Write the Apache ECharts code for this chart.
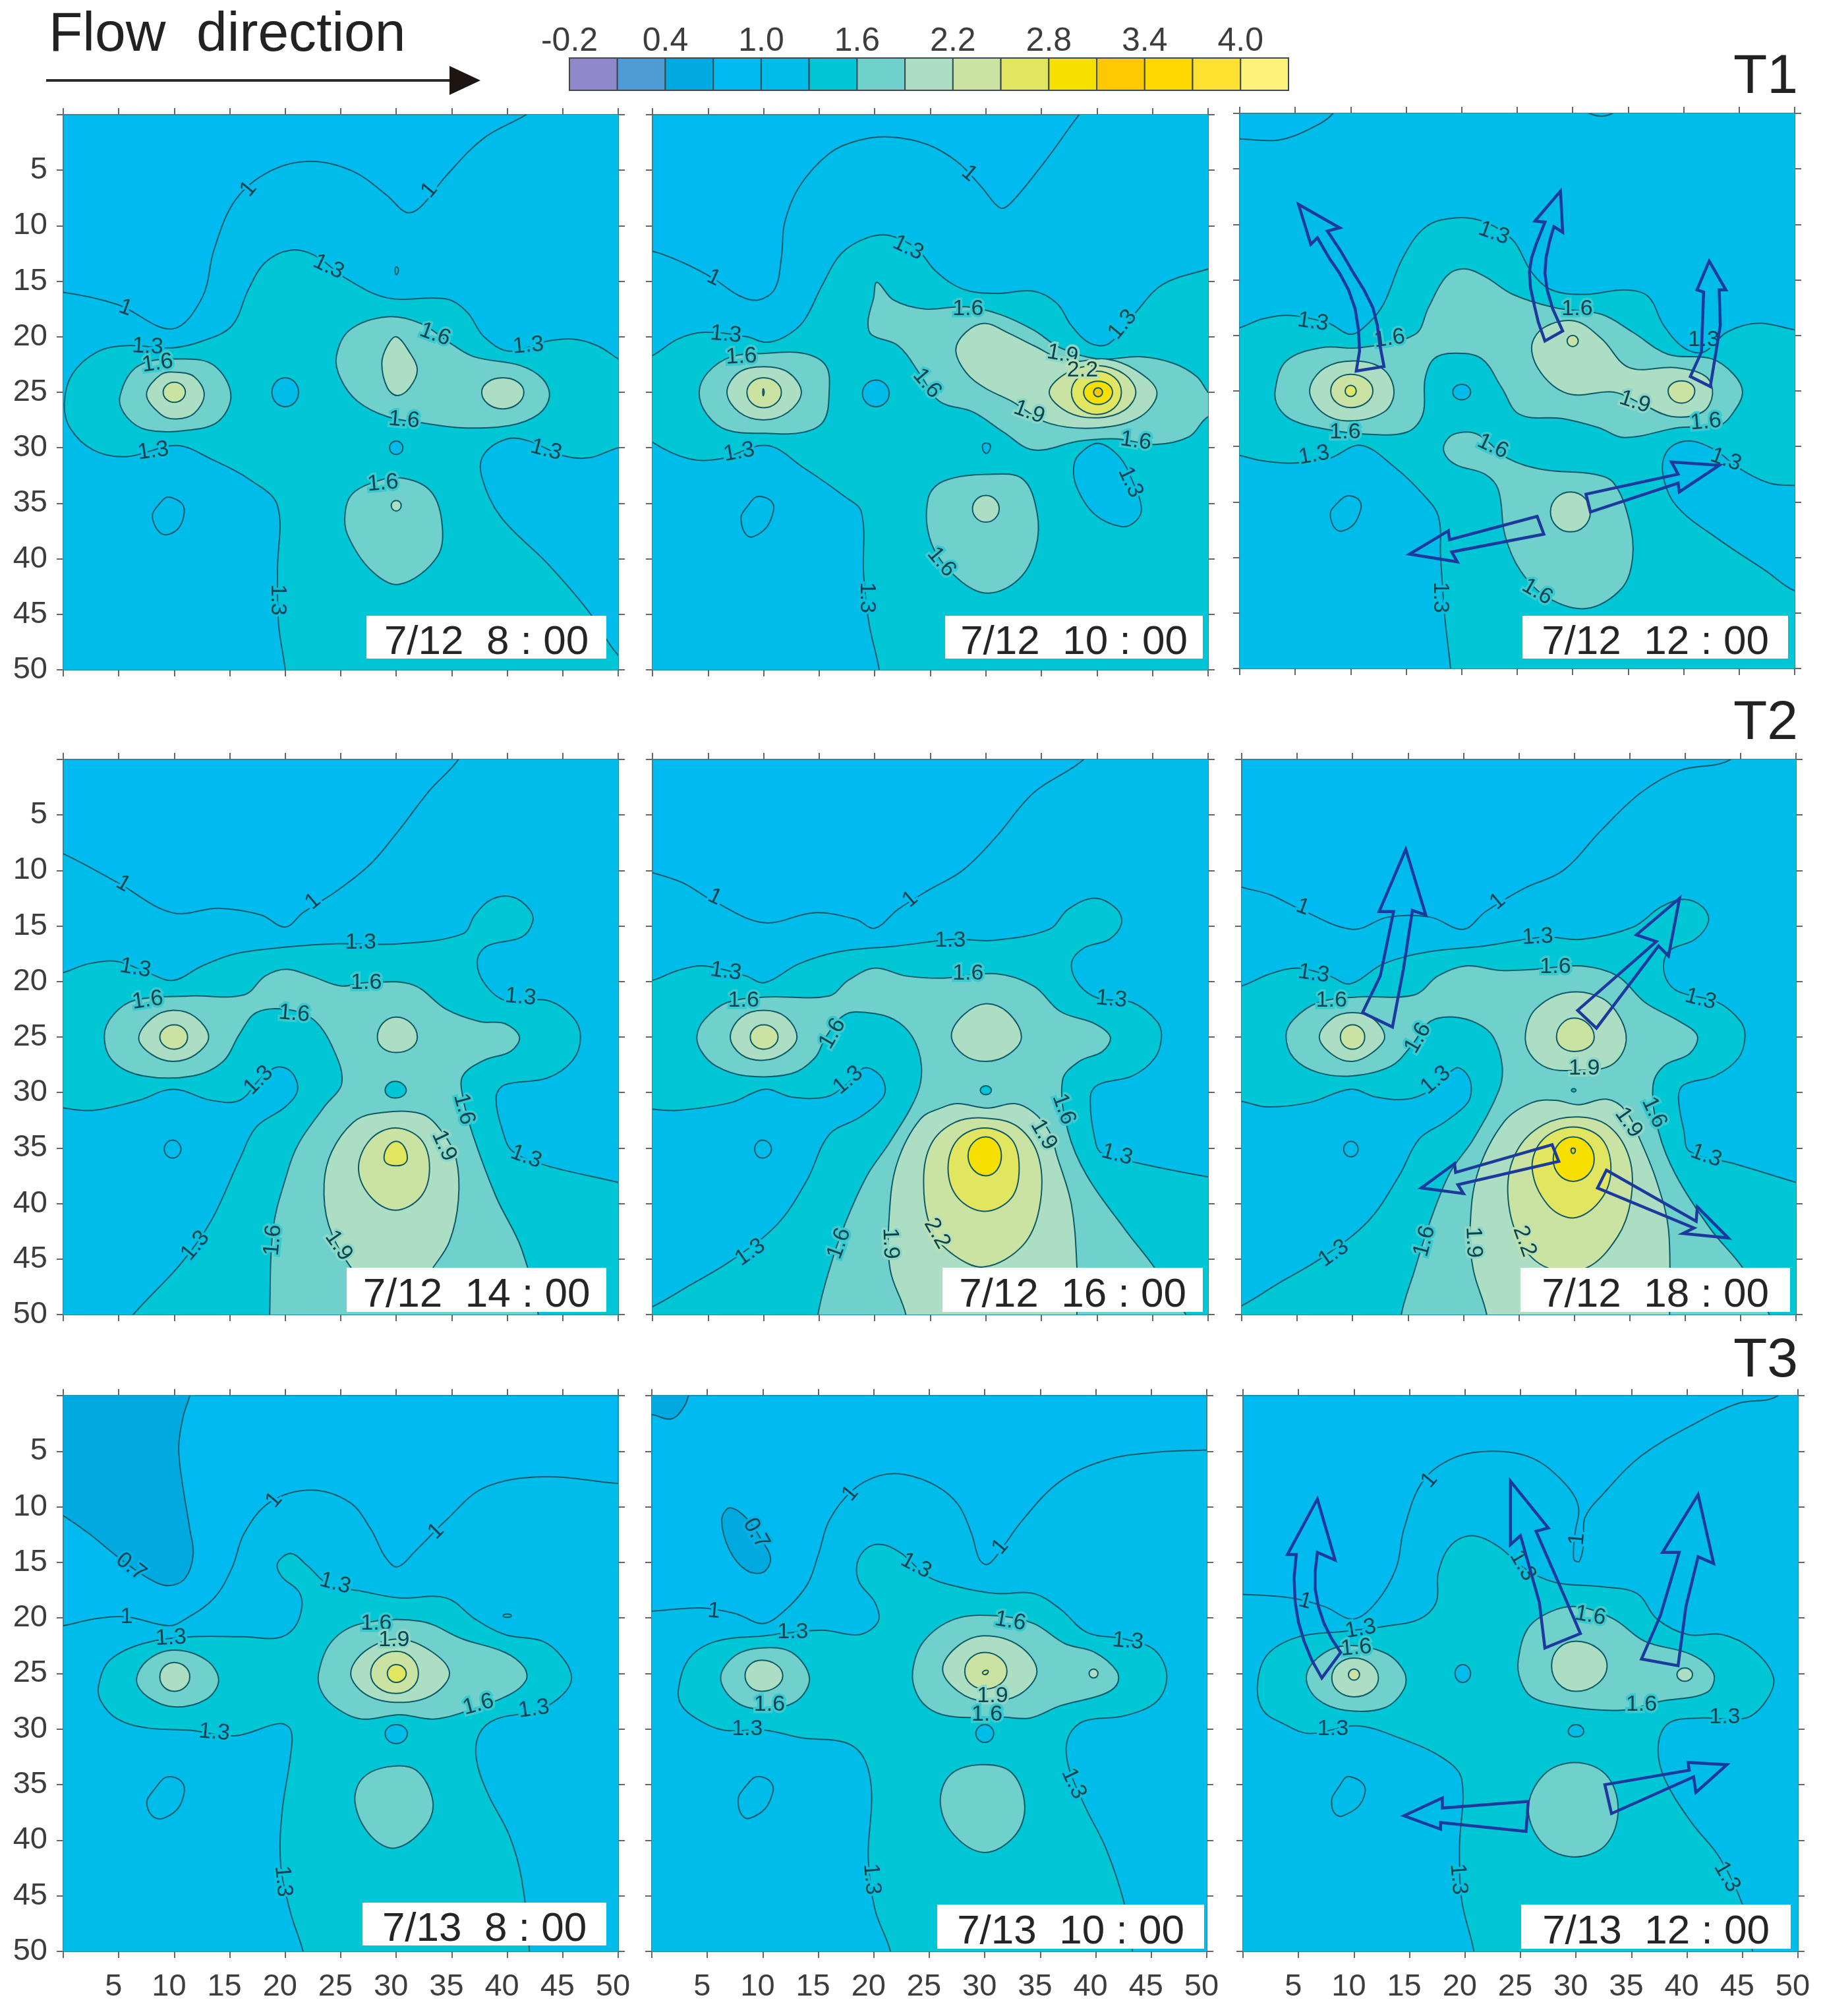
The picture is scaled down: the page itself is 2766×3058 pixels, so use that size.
<!DOCTYPE html>
<html>
<head>
<meta charset="utf-8">
<style>
  html, body { margin: 0; padding: 0; background: #fff; }
  #chart { width: 2766px; height: 3058px; }
</style>
<script src="https://cdn.jsdelivr.net/npm/echarts@6/dist/echarts.min.js"></script>
</head>
<body>
<div id="chart"></div>
<script>
// legend
const legendLevels = [-0.2, 0.1, 0.4, 0.7, 1.0, 1.3, 1.6, 1.9, 2.2, 2.5, 2.8, 3.1, 3.4, 3.7, 4.0];
const legendColors = ['#8f88c9', '#4f9bd6', '#00a9e0', '#00baf0', '#00bcea', '#00c6d6', '#70d0cc', '#abdec2',
  '#cae3a3', '#e2e560', '#f7e000', '#ffc800', '#ffd800', '#ffe030', '#fff27a'];
const legendTicks = [-0.2, 0.4, 1.0, 1.6, 2.2, 2.8, 3.4, 4.0];

const axisTicks = [5, 10, 15, 20, 25, 30, 35, 40, 45, 50];
const timeLabels = ['7/12  8 : 00', '7/12  10 : 00', '7/12  12 : 00', '7/12  14 : 00', '7/12  16 : 00', '7/12  18 : 00',
  '7/13  8 : 00', '7/13  10 : 00', '7/13  12 : 00'];
const periodLabels = ['T1', 'T2', 'T3'];

// contours: [level, outline], x across, y down. Off-panel points close the shape.
const contours0712a = [
  [1.0, [[0,16],[4.9,17.1],[9.8,19.3],[12.5,16.5],[13.6,12.1],[15.5,7.7],[18.6,5.1],[22.3,4.2],[26.1,5.1],[29.2,7.3],[30.9,8.8],[32.2,8.3],[34.5,5.5],[37.9,2.1],[41.7,0],[46,-3],[53,-3],[53,53],[-3,53],[-3,16]]],
  [1.3, [[0.1,26],[0.8,23.4],[3,21.4],[5.7,20.8],[9.8,21],[12.5,20.4],[15.2,19],[16.7,15.7],[18.2,13.3],[20.5,12.2],[22.7,12.7],[25.4,14.7],[29.2,16.5],[34.5,16.6],[36.4,17.8],[37.9,20],[40.2,21.3],[43.6,20.4],[45.9,20.2],[48.1,20.8],[50,22],[53,24],[53,29.5],[50,30],[47.4,30.9],[45,30.7],[42,29.4],[40,29.2],[37.9,30.6],[37.7,32.6],[39.4,36.2],[43.6,40.4],[47.3,44.7],[50,48.7],[53,51],[53,53],[20.2,53],[20,50],[19.4,45.9],[19.3,41],[19.3,35.2],[17,33],[13.3,31],[10.2,29.8],[5.7,30.8],[2.7,30.2],[0.6,28.2]]],
  [1.0, [[18.8,25],[20,23.7],[21.2,25],[20,26.3]]],
  [1.0, [[9.8,34.5],[10.9,35.8],[9.5,37.8],[8.1,36.6],[8.7,35]]],
  [1.0, [[29.4,30],[30,29.4],[30.6,30],[30,30.6]]],
  [1.6, [[5.1,25.4],[6.8,22.6],[11,22],[13.6,22.6],[15.1,25.2],[14,27.6],[11.4,28.4],[7.6,28.4],[5.7,27.2]]],
  [1.6, [[24.6,21.8],[25.8,19.4],[29.2,18.2],[32.2,18.8],[34.9,20.6],[37,21.8],[41.2,22.6],[43.2,23.8],[43.8,25.4],[42.8,27],[40.2,28],[36,28.2],[32.6,27.8],[29.2,27.2],[26.5,25.8],[25,23.8]]],
  [1.6, [[27.7,33.2],[30.3,32.7],[33,33.8],[34.1,36.6],[33.7,39.8],[30.3,42.3],[27.7,41],[25.6,37.8],[25.4,35.8],[26,34.2]]],
  [1.9, [[7.5,25.2],[8.8,23.4],[10.2,23.2],[11.8,23.6],[12.7,25.2],[11.8,26.9],[10.2,27.4],[8.8,27]]],
  [1.9, [[30,20],[31.2,21.4],[31.9,23],[31.2,24.6],[30.1,25.3],[29.2,24.6],[28.7,22.4],[29.2,20.8]]],
  [1.9, [[37.7,25],[39.6,23.7],[41.5,25],[39.6,26.5]]],
  [1.9, [[29.55,35.2],[30,34.75],[30.45,35.2],[30,35.7]]],
  [2.2, [[9,25],[10,24.1],[11,25],[10,25.9]]],
  [1.3, [[30,13.7],[30.2,14],[30,14.4],[29.9,14]]]
];
const contours0712b = [
  [1.0, [[0,12.3],[2.7,13.3],[5.4,14.7],[7.8,16.3],[9.5,16.7],[11,15.7],[11.6,12.9],[11.9,9.7],[13.2,6.5],[15.9,3.5],[18.6,2.3],[21.4,2],[24.8,2.7],[27.5,4.3],[29.6,6.5],[31.3,8.4],[32.3,7.9],[35.4,4.1],[38.4,0],[41,-3],[53,-3],[53,53],[-3,53],[-3,12]]],
  [1.3, [[0,21.7],[2.3,20.2],[4.7,19.6],[8.5,20],[10.2,20.5],[11.9,20],[13.6,18.6],[15.3,15.3],[17,12.5],[19.3,11.1],[21.4,10.9],[23.8,12.1],[25.5,14.1],[27.9,15.7],[30.9,16.1],[34.3,15.9],[36.4,17],[37.7,19],[39.4,20.6],[41.1,20.6],[43.5,17.8],[45.9,15.3],[50,13.9],[53,13],[53,53],[20.6,53],[20.4,50],[19.5,45.9],[19,41.4],[18.8,35.8],[17.3,34.4],[13.6,31.8],[10.3,29.8],[6.1,31],[3.3,31],[0,29.5],[-3,27],[-3,23]]],
  [1.0, [[38.4,30.6],[40.1,29.6],[42,30.8],[43.2,33],[44,35.4],[43.5,36.6],[42.2,37.1],[39.8,36],[38.2,33.6],[37.9,31.8]]],
  [1.0, [[18.9,25.1],[20.1,23.9],[21.3,25.1],[20.1,26.3]]],
  [1.0, [[9.8,34.4],[10.9,35.6],[9.1,38],[8,36.8],[8.6,35.2]]],
  [1.0, [[29.7,29.8],[30.2,29.6],[30.4,30],[30,30.5]]],
  [1.6, [[4.2,25],[5,23.2],[7.1,21.8],[10.2,21.5],[13.6,21.5],[15.6,22.6],[15.9,25],[15.4,27.6],[13.6,28.6],[10.2,28.7],[6.7,28.4],[4.9,27]]],
  [1.6, [[20.2,15.1],[21.7,16.7],[24.5,17.5],[28.2,17.3],[31.3,18],[34.3,19.4],[36.7,21],[40.1,22],[43.9,21.8],[46.9,22.4],[49,23.6],[50,25],[52,27],[50,27.2],[48.3,29],[45.2,29.7],[41.8,29.2],[38.4,29.4],[34.3,30.2],[31.6,28.6],[28.9,26.8],[25.8,25.8],[24.1,23.4],[22.1,20.8],[19.7,19.8],[19.4,18.6],[19.9,16.5]]],
  [1.6, [[24.8,34.6],[26.2,33],[30.2,32.4],[33.3,32.8],[34.6,35.8],[34.5,39],[33,41.8],[30.2,43.1],[27.5,41.8],[25.1,38.6]]],
  [1.9, [[6.7,25],[7.8,23.2],[10,22.7],[12.2,23.2],[13.4,25],[12.2,26.8],[10,27.5],[7.8,26.8]]],
  [1.9, [[27.3,21.2],[28.2,19.6],[29.9,18.8],[31.9,19.6],[34.3,20.8],[37.4,22.2],[40.8,22],[43.5,23],[45.4,25],[43.9,27.2],[40.1,28.2],[35.7,27.8],[32.3,25.8],[29.9,24.6],[28.2,23.2]]],
  [1.9, [[28.8,35.5],[30,34.3],[31.2,35.5],[30,36.7]]],
  [2.2, [[8.5,25],[10,23.7],[11.6,25],[10,26.4]]],
  [2.2, [[35.7,25],[37.4,23.2],[40.1,22.6],[42.5,23.4],[43.5,25],[42.5,26.6],[40.1,27.3],[37.4,26.8]]],
  [2.5, [[37.7,25],[40,23.1],[42.2,25],[40,27]]],
  [2.8, [[38.8,25],[40.1,24],[41.4,25],[40.1,26.1]]],
  [3.1, [[39.7,25],[40.1,24.6],[40.5,25],[40.1,25.4]]],
  [2.5, [[9.95,24.7],[10.05,25],[9.95,25.3]]]
];
const contours0712c = [
  [1.0, [[-3,2.3],[0,2.3],[3.5,2.4],[6.3,1.4],[8.4,0],[10,-3],[53,-3],[53,53],[-3,53]]],
  [0.7, [[31,-0.5],[32.6,0.25],[34,-0.5]]],
  [1.3, [[0,19.3],[2.1,18.5],[4.6,18.2],[8,18.9],[10,19.9],[11.6,18.9],[13,17.1],[14.7,13],[16.8,10.2],[19.6,9.4],[22.1,9.8],[24.6,11.4],[26.3,14.3],[28.1,15.9],[31.2,16.3],[34.7,15.9],[36.8,16.5],[38.2,19.1],[40,21.1],[41.8,21.5],[43.9,19.7],[46.7,18.9],[50,19.5],[53,20],[53,33.5],[50,33.5],[47.7,33.3],[44.9,31.9],[42.8,30.3],[40.4,29.5],[38.6,30.3],[38.1,32.3],[39.3,35.3],[43.2,38.4],[47.4,41.2],[50,43],[53,43.5],[53,53],[19.2,53],[19,50],[18.5,45.6],[18.1,40],[17.9,36.3],[16.5,34.3],[14,31.9],[10.9,29.9],[8,31.1],[4.6,31.5],[2.1,31.3],[0,30.8],[-3,30],[-3,20]]],
  [1.0, [[19.2,25.1],[20,24.4],[20.8,25.1],[20,25.8]]],
  [1.0, [[10.2,34.5],[10.9,35.7],[9.3,37.6],[8.2,36.5],[8.8,35.1]]],
  [1.6, [[3.2,24.9],[4.2,22.3],[7.4,21.1],[10.9,21.1],[15.8,19.9],[17,17.5],[18.6,14.7],[20.2,14],[22.1,14.7],[24.6,16.3],[28.4,17.5],[32.6,18.1],[35.4,19.7],[38.6,21.7],[42.5,22.1],[44.5,23.5],[45.3,25.1],[44.5,26.9],[43.2,28.1],[39.6,28.3],[34.7,29.2],[32.3,28.3],[29.1,27.5],[25.2,27.1],[23.6,24.7],[21.8,22.1],[19.3,21.6],[17.5,22.1],[16.7,23.9],[16.5,27.1],[15.1,28.7],[11.6,28.9],[8.1,28.5],[4.9,27.7],[3.5,26.5]]],
  [1.6, [[18.4,29.9],[19.3,28.9],[21.4,28.9],[24.2,31.1],[27.4,32.1],[31.9,32.5],[33.7,33.3],[35.1,36.7],[35.4,40],[34.4,42.8],[31.2,44.6],[27.7,43.6],[25.3,41.2],[23.9,38],[23.3,33.9],[22.1,32.5],[19.6,31.7],[18.6,30.9]]],
  [1.9, [[6.3,24.9],[7.7,22.9],[10.5,22.3],[13,23.1],[13.9,25.1],[13,26.9],[9.8,27.7],[7.4,26.9]]],
  [1.9, [[26.3,21.1],[27.4,19.3],[30.2,18.7],[32.6,20.3],[35.1,22.9],[39.3,22.9],[42,23.7],[42.6,25.3],[41.7,26.9],[38.9,27.3],[36.1,26.1],[33.7,25.1],[29.8,25.3],[27.4,23.7]]],
  [1.9, [[28,35.9],[29.8,34.1],[31.6,35.9],[29.8,37.7]]],
  [2.2, [[8.2,25],[10,23.5],[12,25],[10,26.5]]],
  [2.2, [[29.5,20.5],[30,20],[30.5,20.5],[30,21]]],
  [2.2, [[38.6,25],[39.8,24.1],[41,25],[39.8,26.1]]],
  [2.5, [[9.5,25],[10,24.5],[10.5,25],[10,25.5]]]
];
const contours0712d = [
  [1.0, [[0,8.5],[4.9,11.1],[9.8,13.8],[14,13.4],[17.8,14],[20,15.1],[21.6,13.8],[24.7,11.8],[27.7,9.4],[30.3,6.3],[33,2.8],[35.6,0],[37,-3],[53,-3],[53,53],[-3,53],[-3,7.5]]],
  [1.3, [[0,19.2],[2.3,18.4],[4.9,18.2],[7.6,19.2],[9.9,19.9],[12.5,18.6],[15.5,17.5],[20.1,16.9],[24.7,16.6],[30.3,16.6],[36,15.7],[37.1,14],[38.6,12.6],[40.5,12.4],[42,13.5],[42.3,14.6],[41.3,16],[38.2,16.8],[37.3,18.1],[37.9,20.1],[39.8,21.7],[43.6,21.7],[45.9,23.2],[46.6,25],[45.9,27.1],[43.6,28.7],[39.8,29.3],[39,30.4],[39.6,33.5],[40.5,35.3],[43.6,36.6],[50,38.1],[53,39],[53,53],[4,53],[6.3,50],[10.6,45.4],[13.3,41.6],[15.9,36],[17.4,33.1],[20,31.3],[21.1,29.8],[20.6,28.2],[19.3,27.7],[17.8,28.7],[15.9,30.7],[13.3,30.7],[9.9,29.7],[6.8,30.7],[2.7,31.6],[0,31.4],[-3,31],[-3,20]]],
  [1.0, [[9.1,35.1],[9.85,34.3],[10.6,35.1],[9.85,35.9]]],
  [1.6, [[3.7,24.9],[4.5,23],[6.4,21.7],[11.4,21.3],[16.3,21.2],[18.2,19.5],[20.1,18.9],[22.3,19.5],[25,20.4],[27.3,20.1],[31.5,20.3],[34.5,22.5],[37.5,23.6],[39.8,23.8],[41.1,25],[40.3,26.3],[37.9,27.1],[36,28.5],[36,30.4],[36.9,33.8],[39,39.4],[41.3,44.1],[42.8,50],[43,53],[18.6,53],[18.6,50],[18.9,42.3],[20.1,37.5],[21.2,34.6],[23.5,31.3],[25.1,29.1],[24.2,25.8],[22.5,23.4],[20.1,22.5],[17.4,22.8],[15.9,24.7],[14.4,27.2],[11.7,28.5],[7.2,28.5],[4.5,27.2]]],
  [1.3, [[29,29.8],[29.9,29],[30.9,29.8],[29.9,30.5]]],
  [1.9, [[6.8,25.1],[8,23.3],[9.9,22.6],[11.9,23.2],[13.1,25],[11.9,26.6],[9.9,27.2],[8,26.6]]],
  [1.9, [[28.3,25],[30,23.2],[31.9,25],[30,26.4]]],
  [1.9, [[23.5,38.2],[24.2,35.3],[26.1,32.7],[28,31.9],[32.2,31.9],[34.1,33.5],[35.4,36],[35.6,39.7],[34.8,43.4],[33.3,45.8],[31,49],[29,49],[25.8,45.6],[23.9,41.9]]],
  [2.2, [[26.6,36.8],[27.7,34.2],[29.9,33.2],[32.2,34.2],[33,36.8],[32.2,39.4],[29.9,40.6],[27.7,39.4]]],
  [2.2, [[8.7,25],[10,23.9],[11.2,25],[10,26.1]]],
  [2.5, [[28.9,35.9],[30,34.4],[31,35.9],[30,36.6]]]
];
const contours0712e = [
  [1.0, [[0,10.2],[2.7,11.1],[5.4,12.7],[10,14.7],[14.6,13.8],[18.3,14.4],[20,15.2],[22.1,13.5],[24.8,11.8],[27.9,10],[30.9,7],[34.3,3],[38.8,0],[41,-3],[53,-3],[53,53],[-3,53],[-3,9.5]]],
  [1.3, [[0,19.9],[2.3,19],[4.7,18.6],[8.4,19.5],[10.1,20.1],[13.2,18.4],[16.9,17.3],[22,16.8],[27.2,16.2],[30.6,16.3],[35.7,15.3],[37.4,13.5],[39.8,12.5],[41.8,13.5],[42.2,14.8],[41.1,16.2],[38.8,17],[37.7,18.4],[38.4,20.3],[40.1,21.5],[43.2,21.9],[45.4,23.6],[45.8,25],[45.2,26.9],[43.2,28.5],[40.1,29.3],[39.4,30.4],[39.9,34.6],[40.5,35.5],[43.9,36.4],[50,37.6],[53,38],[53,53],[-3,53],[-3,50.5],[0,49.3],[3.3,47.4],[7,45.2],[11.2,41.9],[13.9,37.9],[15.9,33.8],[18.7,32.2],[20.7,30.5],[20.9,29.3],[20.2,28.2],[19,27.8],[17.3,29.4],[15.6,30.4],[12.5,30.4],[10.1,29.7],[7.1,30.9],[2.3,31.6],[0,31.5],[-3,31],[-3,20.5]]],
  [1.0, [[9.2,35.1],[9.9,34.3],[10.7,35.1],[9.9,35.9]]],
  [1.6, [[4,24.9],[4.7,23.4],[6.7,21.9],[10.2,21.4],[15.9,21.3],[17.6,19.9],[20,18.8],[22.8,19.5],[26.2,19.7],[30.9,19.3],[34.3,20.4],[36.7,22.7],[39.8,23.8],[41.2,25],[40.5,26.3],[38.4,27.2],[36.9,28.9],[37.4,33.5],[39.1,37.5],[42.5,42.3],[45.2,45.8],[48,50],[50,53],[14.8,53],[14.9,50],[15.9,46],[17.3,41.9],[19.3,37.5],[21.4,34.4],[23.8,30.2],[24.2,27.6],[23.4,25],[21.7,23.4],[19.3,22.8],[17.3,23],[15.6,25],[14.6,26.9],[12.5,28.3],[8.4,28.5],[5.7,27.6],[4.4,26.3]]],
  [1.3, [[29.5,29.8],[30,29.4],[30.5,29.8],[30,30.2]]],
  [1.9, [[7,25],[8,23.2],[10,22.6],[12,23.2],[13,25],[12,26.4],[10,27.1],[8,26.6]]],
  [1.9, [[26.9,24.9],[28,23],[30,22],[32,22.8],[33.2,25],[32,26.6],[30,27.2],[28,26.6]]],
  [1.9, [[23,53],[22.8,50],[21.4,46],[21.3,41.2],[22,36.4],[24.1,32.4],[26.2,31.3],[27.5,31],[30.2,31.4],[32.6,31],[34.3,31.8],[35.7,33.5],[36.4,35.7],[37.7,40.1],[38.2,45.8],[38.2,50],[38.2,53]]],
  [2.2, [[8.8,25],[10,23.9],[11.3,25],[10,26.1]]],
  [2.2, [[24.4,37.9],[25.1,34.6],[27.2,32.7],[29.9,32.3],[32.9,33.1],[34.8,36],[34.8,40.5],[33.3,43.8],[29.9,45.7],[27.2,44.7],[25.1,42.3]]],
  [2.5, [[26.6,36.8],[27.5,34.2],[29.9,33.2],[32.3,34.2],[33,36.8],[32.3,39.5],[29.9,40.7],[27.5,39.5]]],
  [2.8, [[28.4,35.7],[30,34],[31.4,35.7],[30,37.5]]]
];
const contours0712f = [
  [1.0, [[0,11.5],[2.6,12.2],[5.3,13.5],[10,15.3],[13.2,14.2],[17,14.2],[20,15.3],[22,13.7],[25.5,11.6],[29,10],[32.5,6.3],[36,3],[39.5,1],[44.1,0],[46,-3],[53,-3],[53,53],[-3,53],[-3,10.5]]],
  [1.3, [[0,20.4],[2.6,19.3],[5.1,18.8],[7.9,19.5],[9.8,20.2],[12.8,18.4],[17,17.3],[21.9,16.8],[27.2,16],[30.7,16.2],[35.3,15.1],[37.8,13.3],[39.9,12.6],[41.6,13.3],[42.1,14.6],[40.9,16.2],[38.5,17.3],[38.1,19.2],[39.2,20.8],[43,21.9],[45,23.6],[45.4,25],[44.8,26.9],[42.7,28.5],[39.9,29.3],[39.4,30.4],[39.9,33.5],[40.4,35.3],[44.4,36.4],[50,38.1],[53,39],[53,53],[-3,53],[-3,50.5],[0,49.2],[3.3,47.2],[7.2,44.9],[11.4,41.6],[14.2,37.5],[16,34.2],[18.4,32.6],[20.4,30.9],[20.7,29.4],[20.2,28.2],[19.3,27.8],[17,29.8],[14.9,30.6],[12.1,30.4],[9.8,29.7],[6.1,30.9],[2.3,31.3],[0,30.8],[-3,30.5],[-3,21]]],
  [1.0, [[9.2,35.1],[9.85,34.4],[10.5,35.1],[9.85,35.8]]],
  [1.6, [[4,24.9],[4.7,23.4],[6.9,21.9],[10.4,21.4],[15.6,21.2],[17.7,19.5],[20.2,18.6],[23.4,19],[26.5,18.9],[30.7,18.6],[33.9,19.5],[36.4,21.9],[39.5,23.6],[41.1,24.9],[40.4,26.5],[38.1,27.6],[37.1,29.4],[37.6,33.5],[39.2,37.5],[42.3,42.3],[45.2,45.8],[47.6,50],[49,53],[14.3,53],[14.4,50],[15.6,46],[17,41.6],[18.8,37.2],[20.9,34.2],[23.2,29.8],[23.5,27.6],[22.7,25],[21.3,23.8],[19.1,23.2],[17,23.6],[15.3,25.8],[13.5,27.6],[10,28.5],[6.9,28.2],[4.7,26.9]]],
  [1.3, [[29.8,29.7],[30.1,29.7],[30.1,29.9],[29.8,29.9]]],
  [1.9, [[7,25],[8.2,23.3],[10,22.8],[11.8,23.3],[12.9,25],[11.8,26.4],[10,27.2],[8.2,26.6]]],
  [1.9, [[25.6,24.7],[26.5,22.5],[29.3,21],[32.5,21.5],[34.3,23.6],[34.6,25.8],[33.2,27.6],[30,28],[27.6,27.8],[26,26.5]]],
  [1.9, [[22.3,53],[22.1,50],[20.9,46],[20.6,42.3],[21.3,37.2],[23.7,32.6],[26.2,30.9],[28.3,30.7],[30.4,31.1],[32.9,30.6],[34.6,31.6],[36,34.4],[37.4,37.9],[38.5,42.3],[38.6,50],[38.7,53]]],
  [2.2, [[8.9,25],[10,23.9],[11.1,25],[10,26.1]]],
  [2.2, [[28.4,25],[30,23.3],[31.8,25],[30,26.3]]],
  [2.2, [[24,39],[24.8,35.3],[27.2,32.9],[30.4,32.2],[33.2,33.1],[35,36],[35.1,39.7],[33.9,43],[31.1,45.8],[27.6,45.8],[25.1,43.4]]],
  [2.5, [[26.2,36.8],[27.2,34.2],[29.9,33.1],[32.5,34.2],[33.3,37.2],[32.2,39.9],[29.9,41.3],[27.6,40.1]]],
  [2.8, [[28.1,36],[29.9,34],[31.8,36],[29.9,38]]],
  [3.1, [[29.7,35.2],[29.9,35],[30.1,35.2],[29.9,35.5]]]
];
const contours0713a = [
  [0.4, [[-3,-3],[12,-3],[11.4,0],[10.8,1.9],[10.4,4.6],[10.7,7.7],[11.4,12],[11.7,14.3],[11,16.4],[9.5,17.1],[7.6,16.4],[4.9,14.5],[2.3,12.4],[0,10.8],[-3,9]]],
  [1.0, [[0,20.7],[2.7,20.1],[5.7,19.9],[9.5,20.7],[11,20.1],[13.6,18.2],[15.2,15.5],[16.3,12.4],[18.6,9.6],[22.3,8.5],[25.8,9.6],[27.7,12],[29,14.5],[30.1,15.4],[31.8,13.9],[34.5,11.2],[37.9,8.3],[43.2,7.3],[50,7.9],[53,8],[53,53],[-3,53],[-3,21]]],
  [1.3, [[3.2,26],[4.2,23.8],[7.2,22.3],[11.4,21.7],[16.3,21.7],[19.3,21.8],[20.8,20.9],[21.5,19],[21.2,17.6],[19.7,16.3],[19.3,15.1],[20.5,14.2],[22,15.3],[23.9,17],[26.9,17.6],[30.3,18.2],[34.5,18.2],[37.1,20.1],[39.8,21.5],[43.2,22.1],[45,23.6],[45.8,25.4],[45,26.9],[42.8,28.3],[39,29.1],[37.5,30.4],[37.2,32.6],[38.2,35.7],[40.2,39.6],[41.3,43.5],[42,50],[42,53],[22,53],[21.6,50],[20.5,46.6],[19.6,42.3],[19.7,37.6],[20.5,32.2],[20.5,30.1],[19.5,29.5],[15.5,30.6],[11.4,30.1],[7.6,29.9],[4.9,29.1],[3.4,27.5]]],
  [1.0, [[9.8,34.3],[10.9,35.7],[9.1,38],[7.6,37.1],[8.3,35.3]]],
  [1.0, [[29,30.4],[30,29.6],[31,30.4],[30,31.3]]],
  [1.3, [[39.7,19.7],[40.3,19.7],[40.3,19.9],[39.7,19.9]]],
  [1.6, [[23,25],[24.2,22.1],[26.9,20.5],[32.2,20.3],[36,21.9],[39.8,23.1],[41.5,24.4],[41.7,25.6],[40.2,26.9],[36,28.5],[33.3,29.1],[30.3,28.7],[26.9,29.1],[24.6,28.1],[23.3,26.7]]],
  [1.6, [[6.6,25.6],[7.6,23.8],[10,22.9],[12.9,23.8],[14,25.6],[12.9,27.3],[10,28],[7.6,27.1]]],
  [1.6, [[26.3,36.7],[26.9,34.5],[29.2,33.4],[31.8,33.7],[33.3,36.5],[32.6,38.8],[29.9,40.7],[27.7,39.6]]],
  [1.9, [[8.7,25.3],[10,24],[11.4,25.3],[10,26.6]]],
  [1.9, [[25.9,25],[27.3,22.9],[30.3,21.9],[33.3,23.1],[34.8,25],[33.3,26.9],[30.3,27.6],[27.3,26.9]]],
  [2.2, [[27.7,25],[30,23],[32,25],[30,26.8]]],
  [2.5, [[29.2,25],[30,24.2],[30.9,25],[30,25.8]]]
];
const contours0713b = [
  [0.4, [[-3,-3],[4,-3],[3.3,0],[2.7,1.3],[1.7,2.1],[0,1.7],[-3,1.5]]],
  [0.4, [[6.3,11.2],[7,10.1],[8.5,11],[9.9,13],[10.7,14.7],[10,15.9],[8.5,15.7],[7,13.9]]],
  [1.0, [[0,19.4],[4.4,19.1],[7.5,19.6],[10,20.5],[11.9,19.4],[14,17],[15,14.3],[16,11.2],[18.1,8.5],[20.5,7.2],[22.8,7.1],[25.6,8.1],[27.6,9.8],[28.8,12.4],[29.5,14.7],[30.2,15.2],[31,14.5],[33.4,11.2],[36.8,7.7],[40.9,5.8],[45.3,5.1],[50,4.9],[53,4.9],[53,53],[-3,53],[-3,19.5]]],
  [1.3, [[2.4,26.4],[3.4,23.6],[5.8,22.1],[10.2,21.6],[15.3,21.1],[18.7,21.5],[20.4,20.3],[20.1,18.6],[18.7,16.8],[18.5,15.1],[19.4,13.7],[20.8,13.4],[22.5,14.2],[24.9,16.3],[27.6,17.2],[31,17.8],[34.4,17.8],[36.8,19.2],[39.2,21.3],[42.6,21.9],[45.3,22.9],[46.4,25.2],[45.5,27.5],[42.6,28.8],[38.9,29.3],[37.5,30.8],[37.5,33.2],[39,36.9],[40.9,40.7],[42.6,45.8],[43.3,50],[43.5,53],[21.8,53],[21.5,50],[20.1,46.2],[19.5,41.5],[19.8,35.7],[19.1,32.6],[17.4,31.2],[13.6,30.8],[10.2,30.1],[6.5,30.1],[4.1,29.1],[2.7,27.9]]],
  [1.0, [[9.9,34.3],[10.9,35.7],[8.9,38],[7.8,36.9],[8.5,35.1]]],
  [1.0, [[29.2,30.4],[30,29.6],[30.8,30.4],[30,31.2]]],
  [1.6, [[6.2,25.4],[7.5,23.4],[9.9,22.7],[12.6,23.1],[14.2,25.4],[13,27.5],[9.9,28.2],[7.5,27.5]]],
  [1.6, [[23.5,24.8],[24.5,22.1],[27.3,20.1],[31,19.8],[34.4,20.5],[37.2,22.3],[39.9,23.1],[41.9,24.8],[41.9,26],[40.6,26.9],[36.8,27.9],[34.1,29],[31.4,28.9],[27.3,28.9],[25.2,28.3],[23.9,26.9]]],
  [1.6, [[26,36.7],[26.9,34.1],[29.7,33.2],[32.4,33.9],[33.6,36.9],[32.7,39.6],[30,41.1],[27.3,39.6]]],
  [1.9, [[8.4,25.2],[9.9,23.8],[11.8,25.2],[9.9,26.6]]],
  [1.9, [[26.2,24.6],[27.6,22.5],[30,21.6],[33.1,22.5],[34.7,24.8],[33.1,26.9],[30,27.5],[27.6,26.6]]],
  [1.9, [[39.4,25],[39.8,24.6],[40.2,25],[39.8,25.4]]],
  [2.2, [[28.2,24.8],[30,23.1],[32,24.8],[30,26.4]]],
  [2.5, [[29.8,24.9],[30.2,24.7],[30.3,24.9],[30,25.1]]]
];
const contours0713c = [
  [1.0, [[0,17.9],[4.3,18.2],[7.4,19],[9.9,20.1],[12,18.6],[13.8,15.5],[14.5,12],[16.2,7.7],[19,5.6],[22.5,5],[26,5.6],[28.8,7.7],[30.2,9.9],[29.9,12.5],[29.8,14.7],[30.3,14.9],[30.7,13.3],[30.8,11],[32.4,8.9],[35.9,5.4],[41.1,2.3],[44.6,0.7],[48.2,0],[50,-3],[53,-3],[53,53],[-3,53],[-3,18]]],
  [1.3, [[1.3,26],[2.2,23.3],[5,21.7],[9.2,21.2],[13.1,20.7],[15.9,20.1],[17.4,18.6],[17.6,15.9],[18.7,13.5],[20.6,12.6],[22.9,13.5],[25.3,15.5],[28.1,16.8],[32.4,17.2],[35.5,17.8],[37.3,20.1],[40.1,21.5],[43.2,21.5],[46,22.9],[47.8,25.4],[47.1,27.5],[45.3,29],[41.1,29],[38.3,29.5],[37.4,31.6],[38,34.5],[40.4,38.4],[42.9,41.5],[45,45.8],[45.9,50],[46,53],[21,53],[20.8,50],[19.7,45.4],[19.5,40.7],[19.7,34.5],[18,32.6],[14.1,30.8],[10.2,29.7],[6,30.4],[3.6,29.5],[1.8,28.3]]],
  [1.0, [[19.1,25],[19.8,24.2],[20.5,25],[19.8,25.8]]],
  [1.0, [[29.3,30.2],[30,29.6],[30.7,30.2],[30,30.7]]],
  [1.0, [[9.7,34.3],[11,35.7],[9,37.8],[8,36.9],[8.7,35.1]]],
  [1.6, [[5.7,25.4],[6.7,23.6],[9.2,22.5],[12.7,23.1],[14.5,24.8],[14.5,26.4],[12.7,28.1],[9.2,28.3],[6.7,27.3]]],
  [1.6, [[24.8,23.8],[25.7,20.9],[27.8,19.4],[30.2,19],[33.4,20.1],[36.2,22.1],[40.4,23.3],[42.4,25],[41.8,26.7],[37.6,27.5],[34.1,28.3],[28.8,27.9],[26,27.1],[25,25.6]]],
  [1.6, [[25.7,37.2],[27.1,34.1],[29.9,33],[32.7,34.1],[33.8,37.2],[32.7,40.4],[29.9,41.5],[27.1,40.4]]],
  [1.9, [[8,25.4],[10,23.6],[12.2,25.4],[10,27.1]]],
  [1.9, [[27.8,24.3],[30,22.1],[32.8,24.3],[30,26.6]]],
  [1.9, [[39.1,25.1],[39.8,24.5],[40.5,25.1],[39.8,25.7]]],
  [2.2, [[9.5,25.1],[10,24.6],[10.5,25.1],[10,25.6]]]
];

// contour labels: [x, y, text, angle]
const labels0712a = [[16.7,6.7,'1',50],[33,6.8,'1',50],[5.6,17.4,'1',-20],[23.9,13.7,'1.3',-25],[7.6,20.9,'1.3',-3],[8.5,22.4,'1.6',8],[33.5,19.8,'1.6',-20],[41.9,20.8,'1.3',5],[30.7,27.5,'1.6',-5],[8.1,30.3,'1.3',8],[43.5,30.2,'1.3',-15],[28.8,33.2,'1.6',5],[19.3,43.7,'1.3',-90]];
const labels0712b = [[28.5,5.3,'1',-40],[5.5,14.7,'1',-25],[23,12,'1.3',-25],[6.6,19.8,'1.3',-5],[8,21.8,'1.6',3],[42.3,18.9,'1.3',50],[28.4,17.5,'1.6',0],[36.9,21.6,'1.9',-10],[38.7,23,'2.2',0],[24.7,24.2,'1.6',-50],[33.9,26.8,'1.9',-20],[43.5,29.4,'1.6',-8],[7.8,30.4,'1.3',10],[43,33.1,'1.3',-65],[26,40.3,'1.6',-50],[19.3,43.5,'1.3',-90]];
const labels0712c = [[6.6,18.8,'1.3',-8],[13.5,20.3,'1.6',8],[22.9,10.8,'1.3',-20],[30.4,17.6,'1.6',0],[41.8,20.4,'1.3',0],[35.6,26,'1.9',-18],[42,27.8,'1.6',5],[9.5,28.7,'1.6',0],[6.7,30.8,'1.3',10],[22.8,30,'1.6',-25],[43.8,31.2,'1.3',-20],[26.8,43.1,'1.6',-30],[18.1,43.6,'1.3',-90]];
const labels0712d = [[5.4,11.2,'1',-30],[22.5,12.8,'1',40],[6.5,18.8,'1.3',-10],[26.8,16.5,'1.3',0],[7.6,21.7,'1.6',8],[27.3,20.1,'1.6',0],[20.8,22.9,'1.6',-5],[41.2,21.4,'1.3',-5],[17.6,28.9,'1.3',45],[36.1,31.5,'1.6',-75],[34.3,34.8,'1.9',-65],[41.7,35.8,'1.3',-20],[11.9,43.8,'1.3',50],[18.9,43.3,'1.6',85],[24.8,43.8,'1.9',-55]];
const labels0712e = [[5.6,12.4,'1',-25],[23.2,12.6,'1',40],[6.6,19.1,'1.3',-8],[26.8,16.3,'1.3',0],[8.2,21.7,'1.6',0],[28.4,19.3,'1.6',0],[16.2,24.7,'1.6',60],[41.3,21.6,'1.3',-5],[17.6,28.9,'1.3',40],[37,31.5,'1.6',-70],[35.2,33.8,'1.9',-60],[41.8,35.6,'1.3',-15],[8.8,44.4,'1.3',35],[16.8,43.6,'1.6',70],[21.4,43.6,'1.9',-88],[25.6,42.7,'2.2',-60]];
const labels0712f = [[5.5,13.3,'1',-20],[23.1,12.8,'1',40],[6.5,19.3,'1.3',-8],[26.7,16,'1.3',3],[8.1,21.7,'1.6',0],[28.3,18.7,'1.6',0],[15.9,25.1,'1.6',60],[41.4,21.6,'1.3',-15],[30.9,27.8,'1.9',0],[17.5,28.9,'1.3',40],[37.2,31.8,'1.6',-65],[34.9,32.7,'1.9',-55],[41.9,35.7,'1.3',-20],[8.3,44.5,'1.3',35],[16.5,43.4,'1.6',75],[20.9,43.5,'1.9',-88],[25.5,43.4,'2.2',-70]];
const labels0713a = [[6.1,15.4,'0.7',-38],[19,9.4,'1',50],[33.6,12.2,'1',45],[5.7,19.9,'1',0],[9.7,21.8,'1.3',3],[24.5,16.9,'1.3',-15],[28.2,20.5,'1.6',0],[29.8,22,'1.9',0],[37.4,27.8,'1.6',15],[42.4,28.2,'1.3',8],[13.6,30.3,'1.3',-5],[19.8,43.7,'1.3',-85]];
const labels0713b = [[17.9,8.8,'1',50],[9.4,12.4,'0.7',-60],[31.4,13.6,'1',50],[5.6,19.4,'1',-5],[23.8,15.3,'1.3',-28],[12.7,21.3,'1.3',0],[32.3,20.3,'1.6',-10],[42.9,22.1,'1.3',-5],[30.7,27,'1.9',0],[10.6,27.8,'1.6',0],[30.2,28.7,'1.6',0],[8.6,30,'1.3',0],[38,34.9,'1.3',-65],[19.8,43.5,'1.3',-85]];
const labels0713c = [[16.8,7.6,'1',50],[30.1,12.9,'1',85],[5.6,18.5,'1',-15],[25.2,15.3,'1.3',-60],[10.6,21,'1.3',10],[10.2,22.7,'1.6',5],[31.3,19.8,'1.6',-10],[43.4,28.9,'1.3',0],[35.9,27.8,'1.6',0],[8.1,30,'1.3',0],[43.6,43.3,'1.3',-60],[19.4,43.5,'1.3',-85]];

// flow arrows, same x/y as the contours
const arrows0712c = [
  [[10.5,23.2],[10.8,21.4],[10.7,19.5],[10.4,17.6],[9.8,15.9],[9,14.4],[8.1,13.1],[7,11.2],[6.4,11.8],[5.3,8.2],[9,10.3],[7.9,10.6],[9.1,12.4],[10.2,14.3],[11.2,15.9],[12,17.5],[12.4,19.1],[12.6,20.7],[13,22.8]],
  [[27.5,20.5],[26.9,18.8],[26.5,17.1],[26.2,15.7],[26.1,14.3],[26.3,13],[26.7,11.8],[27.5,9.8],[26.6,9.7],[28.9,7],[29.1,10.7],[28.3,10.2],[27.9,11.6],[27.6,13],[27.5,14.4],[27.7,15.9],[28.2,17.6],[29.1,19.6]],
  [[40.6,23.7],[41.6,21.5],[41.8,16.1],[41.2,15.9],[42.3,13.3],[43.8,15.9],[43.2,15.9],[43.3,19.1],[42.4,24.6]],
  [[31.2,34.3],[39.5,32.5],[38.9,31.4],[43.2,31.7],[39.6,34.1],[39.5,33.3],[31.6,35.9]],
  [[26.8,36.3],[18.9,38.4],[18.8,37.6],[15.3,39.7],[19.6,40.4],[19.1,39.5],[27.4,37.9]]
];
const arrows0712f = [
  [[10.9,22.8],[12.5,19.5],[13.7,13.7],[12.4,13.7],[14.8,8.1],[16.6,14],[15.4,13.6],[14.6,18.8],[13.6,24.1]],
  [[30.3,22.6],[37.4,16.4],[35.6,15.8],[39.5,12.5],[38.5,17.7],[37.6,16.8],[32,24.2]],
  [[28,34.7],[19.3,37.2],[19.2,36.4],[16.2,38.6],[20,39.1],[19.5,38.3],[28.6,36.2]],
  [[32.9,37],[41,41.6],[41.1,40.3],[43.9,43.1],[39.8,42.7],[40.8,42.2],[32.1,38.6]]
];
const arrows0713c = [
  [[7.1,25.4],[6.2,23.8],[5.5,22.1],[5,20.4],[4.7,18.6],[4.6,16.4],[4.8,14.3],[4,14.3],[6.7,9.3],[8.3,14.8],[6.7,14.1],[6.5,15.8],[6.5,17.4],[6.8,19],[7.3,20.5],[8,21.9],[8.8,23.1]],
  [[27.2,22.7],[26.7,18.6],[25,12.6],[24.1,13.4],[24.1,7.7],[27.5,11.9],[26.4,12.2],[28.5,17],[30.4,21.4]],
  [[35.9,23.7],[37.6,19.8],[39.3,14.1],[37.8,14.1],[41,8.9],[42.4,15.1],[41,14.5],[39.9,19],[39.2,24.3]],
  [[32.6,35],[40.2,33.7],[40.1,33],[43.6,33.2],[40.8,35.7],[40.6,34.3],[33.2,37.6]],
  [[25.7,36.5],[17.96,37.1],[17.96,36.2],[14.5,37.8],[17.8,39],[17.8,38.4],[25.5,39.2]]
];

const panelContours = [contours0712a, contours0712b, contours0712c, contours0712d, contours0712e, contours0712f, contours0713a, contours0713b, contours0713c];
const panelLabels = [labels0712a, labels0712b, labels0712c, labels0712d, labels0712e, labels0712f, labels0713a, labels0713b, labels0713c];
const panelArrows = [[], [], arrows0712c, [], [], arrows0712f, [], [], arrows0713c];

// layout, pixels
const gridRects = [
  [96,174,842,842], [990,174,843,842], [1881,172,842,842],
  [96,1152,842,842], [990,1152,843,842], [1884,1152,841,842],
  [96,2117,842,843], [989,2117,842,843], [1886,2117,842,843]
];
const timeBoxes = [
  [556,934,364,65], [1434,934,391,65], [2310,934,403,65],
  [526,1923,394,67], [1430,1923,395,67], [2307,1923,409,67],
  [550,2886,370,65], [1422,2889,405,67], [2308,2889,409,67]
];
const periodY = [118, 1098, 2065];

const FONT = '"Liberation Sans", Arial, sans-serif';
const bandColor = lv => legendColors[Math.round((lv + 0.2) / 0.3)];
const haloColor = { '0.7': '#00b2e8', '1': '#00bbed', '1.3': '#00c1e0', '1.6': '#38cbd1', '1.9': '#8dd7c7', '2.2': '#bbe0b2' };
// bezier handle length that keeps a closed outline round for its number of points
const smoothFor = n => n <= 5 ? 0.55 : n <= 7 ? 0.42 : 0.36;

let grids = [], xAxes = [], yAxes = [], series = [], graphics = [];

function addAxes(i) {
  const showY = i % 3 === 0;
  const showX = i >= 6;
  const line = { show: true, onZero: false, lineStyle: { color: '#1c8ea6', width: 2 } };
  const tick = { show: true, length: 10, lineStyle: { color: '#666', width: 2 } };
  const xBase = { type: 'value', gridIndex: i, min: 0, max: 50, interval: 5, axisLine: line, axisTick: tick, splitLine: { show: false } };
  const yBase = { type: 'value', gridIndex: i, min: 0, max: 50, interval: 5, inverse: true, axisLine: line, axisTick: tick, splitLine: { show: false } };
  xAxes.push(Object.assign({}, xBase, {
    position: 'bottom',
    axisLabel: {
      show: showX, margin: 31, fontSize: 47, color: '#3d3d3d', fontFamily: FONT, padding: [0, 16, 0, 0],
      formatter: v => axisTicks.includes(v) ? String(v) : ''
    }
  }));
  xAxes.push(Object.assign({}, xBase, { position: 'top', axisLabel: { show: false } }));
  yAxes.push(Object.assign({}, yBase, {
    position: 'left',
    axisLabel: {
      show: showY, margin: 24, fontSize: 47, color: '#3d3d3d', fontFamily: FONT, padding: [8, 0, 0, 0],
      formatter: v => axisTicks.includes(v) ? String(v) : ''
    }
  }));
  yAxes.push(Object.assign({}, yBase, { position: 'right', axisLabel: { show: false } }));
}

function addSeries(i) {
  const ax = { xAxisIndex: i * 2, yAxisIndex: i * 2 };
  const contours = panelContours[i], labels = panelLabels[i], arrows = panelArrows[i];
  series.push(Object.assign({
    type: 'custom', clip: true, silent: true, z: 3,
    data: contours.map(c => [c[0]]),
    renderItem: (params, api) => {
      const c = contours[params.dataIndex];
      return {
        type: 'polygon',
        shape: { points: c[1].map(p => api.coord(p)), smooth: smoothFor(c[1].length) },
        style: { fill: bandColor(c[0]), stroke: '#0f5a68', lineWidth: 2 }
      };
    }
  }, ax));
  series.push(Object.assign({
    type: 'custom', clip: true, silent: true, z: 4,
    data: labels.map(l => [l[0], l[1]]),
    renderItem: (params, api) => {
      const l = labels[params.dataIndex];
      const pt = api.coord([l[0], l[1]]);
      return {
        type: 'text', x: pt[0], y: pt[1], rotation: l[3] * Math.PI / 180,
        style: {
          text: l[2], fill: '#0c4350', font: '34px ' + FONT, align: 'center', verticalAlign: 'middle',
          stroke: haloColor[l[2]], lineWidth: 7
        }
      };
    }
  }, ax));
  if (arrows.length) {
    series.push(Object.assign({
      type: 'custom', clip: true, silent: true, z: 5,
      data: arrows.map((a, k) => [k]),
      renderItem: (params, api) => ({
        type: 'polygon',
        shape: { points: arrows[params.dataIndex].map(p => api.coord(p)) },
        style: { fill: 'none', stroke: '#1c3a9e', lineWidth: 4.5, lineJoin: 'miter' }
      })
    }, ax));
  }
}

gridRects.forEach((r, i) => {
  grids.push({
    left: r[0], top: r[1], width: r[2], height: r[3], show: true,
    backgroundColor: bandColor(0.7), borderWidth: 0, containLabel: false
  });
  addAxes(i);
  addSeries(i);
  const b = timeBoxes[i];
  graphics.push({ type: 'rect', z: 20, shape: { x: b[0], y: b[1], width: b[2], height: b[3] }, style: { fill: '#fff' } });
  graphics.push({
    type: 'text', z: 21, x: b[0] + b[2] / 2, y: b[1] + b[3] / 2 + 8,
    style: { text: timeLabels[i], fill: '#252525', font: '62px ' + FONT, align: 'center', verticalAlign: 'middle' }
  });
});

// colour bar, on its own little axis
const legendIndex = gridRects.length;
grids.push({ left: 864, top: 88, width: 1091, height: 49, show: false, containLabel: false });
xAxes.push({
  type: 'value', gridIndex: legendIndex, min: -0.2, max: 4.3, position: 'top',
  axisLine: { show: false }, axisTick: { show: false }, splitLine: { show: false },
  axisLabel: {
    customValues: legendTicks, margin: 0, fontSize: 50, color: '#3d3d3d', fontFamily: FONT,
    hideOverlap: false, formatter: v => v.toFixed(1)
  }
});
yAxes.push({ type: 'value', gridIndex: legendIndex, min: 0, max: 1, show: false });
series.push({
  type: 'custom', silent: true, z: 3, xAxisIndex: legendIndex * 2, yAxisIndex: legendIndex * 2,
  data: legendLevels.map(v => [v]),
  renderItem: (params, api) => {
    const lv = legendLevels[params.dataIndex];
    const a = api.coord([lv, 1]), b = api.coord([lv + 0.3, 0]);
    return {
      type: 'rect',
      shape: { x: a[0], y: a[1], width: b[0] - a[0], height: b[1] - a[1] },
      style: { fill: legendColors[params.dataIndex], stroke: '#3a4a50', lineWidth: 2 }
    };
  }
});

// header
graphics.push({
  type: 'text', z: 21, x: 74, y: 54,
  style: { text: 'Flow  direction', fill: '#222', font: '84px ' + FONT, align: 'left', verticalAlign: 'middle' }
});
graphics.push({ type: 'line', z: 21, shape: { x1: 70, y1: 122, x2: 690, y2: 122 }, style: { stroke: '#2a2a2a', lineWidth: 4 } });
graphics.push({ type: 'polygon', z: 21, shape: { points: [[682, 100], [729, 122], [682, 144]] }, style: { fill: '#1c1512' } });
periodLabels.forEach((t, i) => {
  graphics.push({
    type: 'text', z: 21, x: 2728, y: periodY[i],
    style: { text: t, fill: '#222', font: '84px ' + FONT, align: 'right', verticalAlign: 'middle' }
  });
});

echarts.init(document.getElementById('chart')).setOption({
  animation: false,
  backgroundColor: '#fff',
  grid: grids,
  xAxis: xAxes,
  yAxis: yAxes,
  series: series,
  graphic: { elements: graphics }
});
</script>
</body>
</html>
